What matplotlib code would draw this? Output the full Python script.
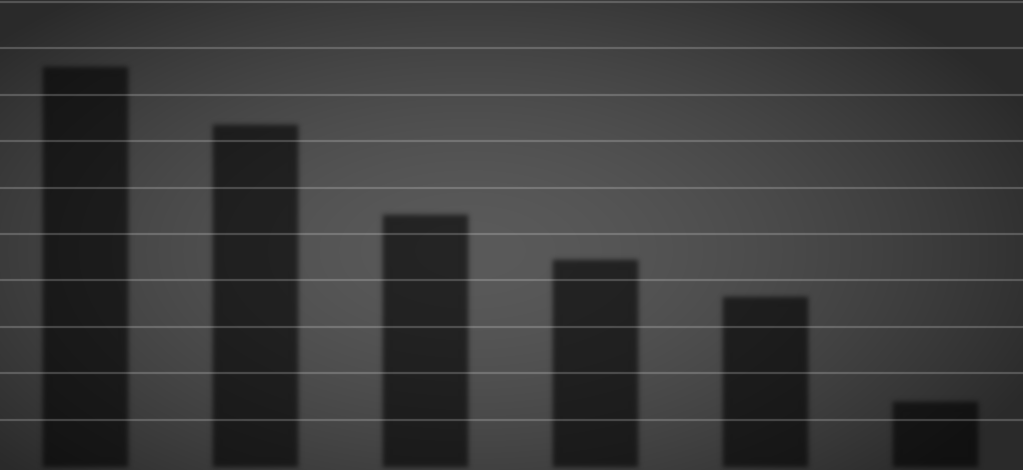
import numpy as np
import matplotlib
matplotlib.use("Agg")
import matplotlib.pyplot as plt

# Data
categories = ["A", "B", "C", "D", "E", "F"]
values = [8.6, 7.35, 5.4, 4.45, 3.65, 1.38]
grid_ticks = [1, 2, 3, 4, 5, 6, 7, 8, 9, 10]


def gaussian_blur_filter(sigma_px):
    def _filter(im, dpi):
        pad = int(3 * sigma_px) + 1
        src = np.pad(im, [(pad, pad), (pad, pad), (0, 0)], "constant")
        x = np.arange(-pad, pad + 1)
        k = np.exp(-x ** 2 / (2 * sigma_px ** 2))
        k /= k.sum()
        out = np.apply_along_axis(lambda m: np.convolve(m, k, mode="same"), 0, src)
        out = np.apply_along_axis(lambda m: np.convolve(m, k, mode="same"), 1, out)
        return out, -pad, -pad
    return _filter


fig = plt.figure(figsize=(10.23, 4.70), dpi=100)
ax = fig.add_axes([0, 0, 1, 1])

# radial gradient background
H, W = 470, 1023
yy, xx = np.mgrid[0:H, 0:W]
cx, cy = 470, 250
r = np.sqrt(((xx - cx) / 620.0) ** 2 + ((yy - cy) / 330.0) ** 2)
c_center, c_edge = 0x5a / 255.0, 0x2a / 255.0
val = c_center - (c_center - c_edge) * np.clip(r, 0, 1) ** 1.6
bg = np.dstack([val, val, val])
ax.imshow(bg, extent=[0, 1, 0, 1], transform=ax.transAxes, aspect="auto",
          zorder=0, interpolation="bilinear")

x = np.arange(len(categories))
bars = ax.bar(x, values, width=0.49, color=(0, 0, 0, 0.6),
              edgecolor=(0, 0, 0, 0.25), linewidth=2, zorder=1)
for b in bars:
    b.set_agg_filter(gaussian_blur_filter(2.5))

ax.set_xlim(-0.5, 5.518)
ax.set_ylim(-4 / 46.4, 10 + 2 / 46.4)
ax.set_yticks(grid_ticks)
ax.set_xticks([])
ax.set_axisbelow(False)
ax.yaxis.grid(True, color="white", alpha=0.2, linewidth=1.6)
ax.tick_params(left=False, labelleft=False, bottom=False, labelbottom=False)
for s in ax.spines.values():
    s.set_visible(False)

fig.savefig("out.png", dpi=100)
